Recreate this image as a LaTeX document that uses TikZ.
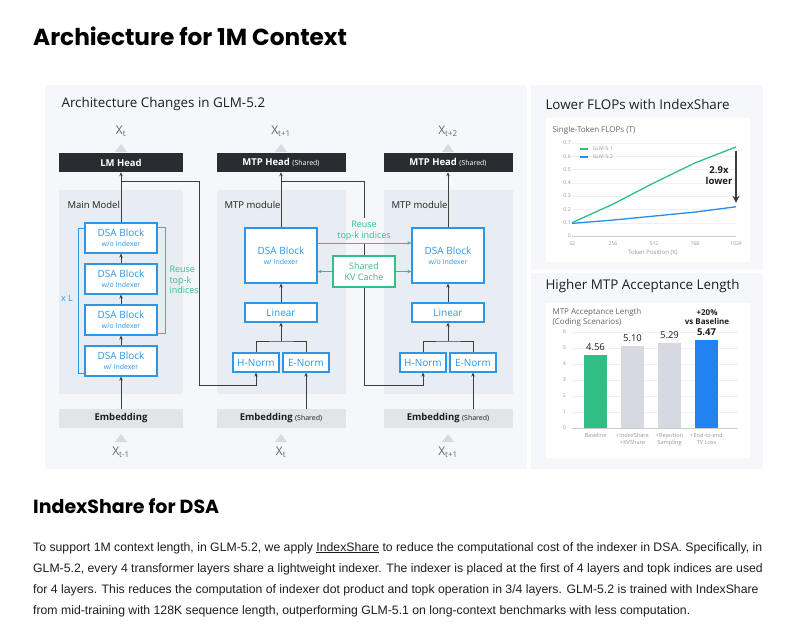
\documentclass[tikz,border=0pt]{standalone}
\usepackage{fontspec}
\setmainfont{Liberation Sans}
\newfontfamily\headfont{Poppins}
\newfontfamily\diafont{Open Sans}
\usepackage{tikz}
\usetikzlibrary{arrows.meta, positioning, calc}
\definecolor{panelbg}{RGB}{245, 247, 250}
\definecolor{modbg}{RGB}{232, 237, 244}
\definecolor{headdark}{RGB}{42, 44, 50}
\definecolor{embgray}{RGB}{226, 228, 231}
\definecolor{blockblue}{RGB}{45, 150, 230}
\definecolor{reusegreen}{RGB}{52, 190, 140}
\definecolor{trigray}{RGB}{215, 219, 225}
\definecolor{linedark}{RGB}{60, 62, 68}
\definecolor{textdark}{RGB}{30, 30, 34}
\definecolor{labelgray}{RGB}{100, 102, 108}
\definecolor{tickgray}{RGB}{150, 152, 158}
\definecolor{bargreen}{RGB}{48, 190, 132}
\definecolor{bargray}{RGB}{214, 217, 223}
\definecolor{barblue}{RGB}{32, 132, 240}
\definecolor{plotblue}{RGB}{40, 140, 235}
\newcommand{\shr}{{\mdseries\fontsize{7}{8}\selectfont (Shared)}}
\newcommand{\blk}[1]{DSA Block\\[-1pt]{\fontsize{7}{8}\selectfont #1}}

\begin{document}
\begin{tikzpicture}[x=1pt, y=-1pt, font=\diafont,
    line/.style={draw=linedark, line width=0.9pt},
    conn/.style={line, -{Stealth[length=4pt, width=3.5pt]}},
    garrow/.style={draw=reusegreen, line width=0.9pt, -{Stealth[length=4pt, width=3.5pt]}},
    dsablock/.style={draw=blockblue, line width=1.2pt, fill=white, text=blockblue, align=center,
      inner sep=0pt, minimum width=72pt, minimum height=30pt, font=\diafont\fontsize{10}{11}\selectfont},
    smallbox/.style={dsablock, minimum height=19pt},
    normbox/.style={smallbox, minimum width=46pt},
    headbox/.style={fill=headdark, text=white, inner sep=0pt, minimum height=19pt,
      font=\diafont\bfseries\fontsize{9.5}{10}\selectfont},
    embbox/.style={headbox, fill=embgray, text=textdark},
    tok/.style={text=labelgray, font=\diafont\fontsize{12}{12}\selectfont},
    modlabel/.style={anchor=west, text=textdark, font=\diafont\fontsize{9.5}{10}\selectfont},
    greentext/.style={text=reusegreen, font=\diafont\fontsize{9}{10.5}\selectfont, align=center},
    paneltitle/.style={anchor=west, text=textdark, font=\diafont\fontsize{13.4}{14}\selectfont},
    charttitle/.style={anchor=west, text=labelgray, align=left, font=\diafont\fontsize{8}{10}\selectfont},
    tick/.style={text=tickgray, font=\diafont\fontsize{5.2}{6}\selectfont},
    gridc/.style={draw=gray!12, line width=0.4pt},
  ]
  \fill[white] (0,0) rectangle (800,632);
  \useasboundingbox (0,0) rectangle (800,632);

  % headings
  \node[anchor=base west, inner sep=0pt, font=\headfont\bfseries\fontsize{23.2}{24}\selectfont] (title) at (33,45) {Archiecture for 1M Context};
  \node[anchor=base west, inner sep=0pt, font=\headfont\bfseries\fontsize{19}{20}\selectfont] (subtitle) at (33,513) {IndexShare for DSA};

  % panels
  \fill[panelbg] (45,85) rectangle (527,469);
  \fill[panelbg] (531,85) rectangle (763,270);
  \fill[panelbg] (531,273) rectangle (763,469);
  \fill[white] (546,118) rectangle (750,262);
  \fill[white] (546,303) rectangle (750,458);
  \fill[modbg] (59,190) rectangle (183,394);
  \fill[modbg] (217,190) rectangle (346,394);
  \fill[modbg] (384,190) rectangle (513,394);

  \node[paneltitle] (archtitle) at (58,104) {Architecture Changes in GLM-5.2};
  \node[modlabel] (mainlab) at (64,205) {Main Model};
  \node[modlabel] (mtplab2) at (221,205) {MTP module};
  \node[modlabel] (mtplab3) at (388,205) {MTP module};

  % heads, embeddings and tokens
  \foreach \i/\cx/\w/\hd/\emb/\xo/\xi in {1/121/124/{LM Head}/{Embedding}/t/t-1,
      2/281/129/{MTP Head \shr}/{Embedding \shr}/t+1/t,
      3/448/129/{MTP Head \shr}/{Embedding \shr}/t+2/t+1} {
    \node[headbox, minimum width=\w pt] (head\i) at (\cx,162.5) {\hd};
    \node[embbox, minimum width=\w pt] (emb\i) at (\cx,418.5) {\emb};
    \node[tok] (out\i) at (\cx,131) {X\textsubscript{\xo}};
    \node[tok] (in\i) at (\cx,452) {X\textsubscript{\xi}};
    \fill[trigray] (\cx-6,152) -- (\cx,144) -- (\cx+6,152) -- cycle;
    \fill[trigray] (\cx-6,442) -- (\cx,434) -- (\cx+6,442) -- cycle;
  }

  % main model
  \node[dsablock] (b1) at (121,238) {\blk{w/o Indexer}};
  \node[dsablock] (b2) at (121,279) {\blk{w/o Indexer}};
  \node[dsablock] (b3) at (121,320) {\blk{w/o Indexer}};
  \node[dsablock] (b4) at (121,361) {\blk{w/ Indexer}};
  \foreach \a/\b in {b4/b3, b3/b2, b2/b1}
    \draw[conn] (\a) -- (\b);
  \draw[conn] (emb1) -- (b4);
  \draw[conn] (b1) -- (head1);
  \draw[blockblue, line width=0.9pt] (84,228) -- (78,228) -- (78,373) -- (84,373);
  \node[text=blockblue, font=\diafont\fontsize{9}{10}\selectfont] (xl) at (67,298) {x L};
  \draw[reusegreen, line width=0.9pt] (158,227) -- (165,227) -- (165,333) -- (158,333);
  \node[greentext, anchor=west, align=left] (reuse1) at (166,280) {Reuse\\top-k\\indices};

  % mtp modules
  \foreach \i/\cx/\ix in {2/281/{w/ Indexer}, 3/448/{w/o Indexer}} {
    \node[dsablock, minimum height=55pt] (dsa\i) at (\cx,255.5) {\blk{\ix}};
    \node[smallbox] (lin\i) at (\cx,312.5) {Linear};
    \node[normbox] (hn\i) at (\cx-25,362.5) {H-Norm};
    \node[normbox] (en\i) at (\cx+25,362.5) {E-Norm};
    \coordinate (j\i) at (\cx,341);
    \draw[line] (hn\i.north) |- (j\i) -| (en\i.north);
    \draw[conn] (j\i) -- (lin\i);
    \draw[conn] (lin\i) -- (dsa\i);
    \draw[conn] (dsa\i) -- (head\i);
    \draw[conn] (emb\i.north -| en\i) -- (en\i);
  }

  % hidden state routes
  \coordinate (c1) at (121,181);
  \coordinate (r1) at (199,181);
  \draw[conn] (c1) -- (r1) |- ($(hn2.south)+(0,13)$) -- (hn2.south);
  \coordinate (c2) at (281,181);
  \node[greentext] (reuse2) at (364,231) {Reuse\\top-k indices};
  \node[draw=reusegreen, line width=1.2pt, fill=white, greentext, minimum width=62pt, minimum height=31pt, inner sep=0pt] (kv) at (364,271.5) {Shared\\KV Cache};
  \draw[line] (c2) -| (reuse2.north);
  \draw[line] (reuse2.south) -- (kv.north);
  \draw[conn] (kv.south) |- ($(hn3.south)+(0,13)$) -- (hn3.south);
  \draw[garrow] (dsa2.east |- 0,243) -- (dsa3.west |- 0,243);
  \draw[garrow] (kv.west) -- (dsa2.east |- kv.west);
  \draw[garrow] (kv.east) -- (dsa3.west |- kv.east);

  % flops chart
  \node[paneltitle] (flopstitle) at (542,104) {Lower FLOPs with IndexShare};
  \node[charttitle] (flopsname) at (549,130) {Single-Token FLOPs (T)};
  \begin{scope}[shift={(572,236)}, x=41pt, y=132.9pt]
    \foreach \v/\t in {0/0, 1/0.1, 2/0.2, 3/0.3, 4/0.4, 5/0.5, 6/0.6, 7/0.7} {
      \draw[gridc] (0,\v/10) -- (4,\v/10);
      \node[tick, anchor=east, inner sep=1pt] (yt\v) at (0,\v/10) {\t};
    }
    \draw[gray!40, line width=0.5pt] (0,0) -- (4,0);
    \foreach \i/\t in {0/32, 1/256, 2/512, 3/768, 4/1024}
      \node[tick, below=2pt] (xt\i) at (\i,0) {\t};
    \draw[bargreen, line width=1.3pt] plot coordinates {(0,0.10) (1,0.24) (2,0.40) (3,0.55) (4,0.67)};
    \draw[plotblue, line width=1.3pt] plot coordinates {(0,0.095) (1,0.12) (2,0.15) (3,0.18) (4,0.22)};
    \coordinate (gtop) at (4,0.64);
    \coordinate (gbot) at (4,0.25);
  \end{scope}
  \draw[linedark, line width=1.2pt, -{Stealth[length=7pt, width=7pt]}] (gtop) -- (gbot);
  \node[align=center, text=textdark, font=\diafont\bfseries\fontsize{9.5}{11}\selectfont] (lower) at (719,176) {2.9x\\lower};
  \draw[bargreen, line width=1.6pt] (580,149) -- (588,149);
  \node[tick, anchor=west] (leg1) at (589,149) {GLM-5.1};
  \draw[plotblue, line width=1.6pt] (580,157) -- (588,157);
  \node[tick, anchor=west] (leg2) at (589,157) {GLM-5.2};
  \node[tick, font=\diafont\fontsize{6}{7}\selectfont] (xlabel) at (653,253) {Token Position (K)};

  % acceptance chart
  \node[paneltitle] (acctitle) at (542,286) {Higher MTP Acceptance Length};
  \node[charttitle] (accname) at (549,317) {MTP Acceptance Length\\(Coding Scenarios)};
  \begin{scope}[shift={(572,428)}, x=1pt, y=16pt]
    \foreach \v in {0,...,6} {
      \draw[gridc] (0,\v) -- (166,\v);
      \node[tick, anchor=east, inner sep=1pt] (ya\v) at (-5,\v) {\v};
    }
    \draw[gray!40, line width=0.5pt] (0,0) -- (166,0);
    \foreach \n/\cx/\v/\col/\cat in {1/23.5/4.56/bargreen/{Baseline},
        2/60.5/5.10/bargray/{+IndexShare\\+KVShare},
        3/97.5/5.29/bargray/{+Rejection\\Sampling},
        4/134.5/5.47/barblue/{+End-to-end\\TV Loss}} {
      \fill[\col] (\cx-11.5,0) rectangle (\cx+11.5,\v);
      \node[tick, align=center, anchor=north, inner sep=0pt, font=\diafont\fontsize{5.6}{7.5}\selectfont] (cat\n) at (\cx,-0.3) {\cat};
    }
    \node[text=textdark, font=\diafont\fontsize{9.5}{10}\selectfont, above=1pt] (v1) at (23.5,4.56) {4.56};
    \node[text=textdark, font=\diafont\fontsize{9.5}{10}\selectfont, above=1pt] (v2) at (60.5,5.10) {5.10};
    \node[text=textdark, font=\diafont\fontsize{9.5}{10}\selectfont, above=1pt] (v3) at (97.5,5.29) {5.29};
    \node[text=textdark, font=\diafont\bfseries\fontsize{9.5}{10}\selectfont, above=1pt] (v4) at (134.5,5.47) {5.47};
  \end{scope}
  \node[align=center, text=textdark, font=\diafont\bfseries\fontsize{8}{8.5}\selectfont] (gain) at (707,317) {+20\%\\vs Baseline};

  % body text
  \foreach \i/\ln in {0/{To support 1M context length, in GLM-5.2, we apply \underline{IndexShare} to reduce the computational cost of the indexer in DSA. Specifically, in},
      1/{GLM-5.2, every 4 transformer layers share a lightweight indexer. The indexer is placed at the first of 4 layers and topk indices are used},
      2/{for 4 layers. This reduces the computation of indexer dot product and topk operation in 3/4 layers. GLM-5.2 is trained with IndexShare},
      3/{from mid-training with 128K sequence length, outperforming GLM-5.1 on long-context benchmarks with less computation.}}
    \node[anchor=base west, inner sep=0pt, text=textdark, font=\fontsize{12.25}{14}\selectfont] (line\i) at (33,551+21*\i) {\ln};
\end{tikzpicture}
\end{document}
